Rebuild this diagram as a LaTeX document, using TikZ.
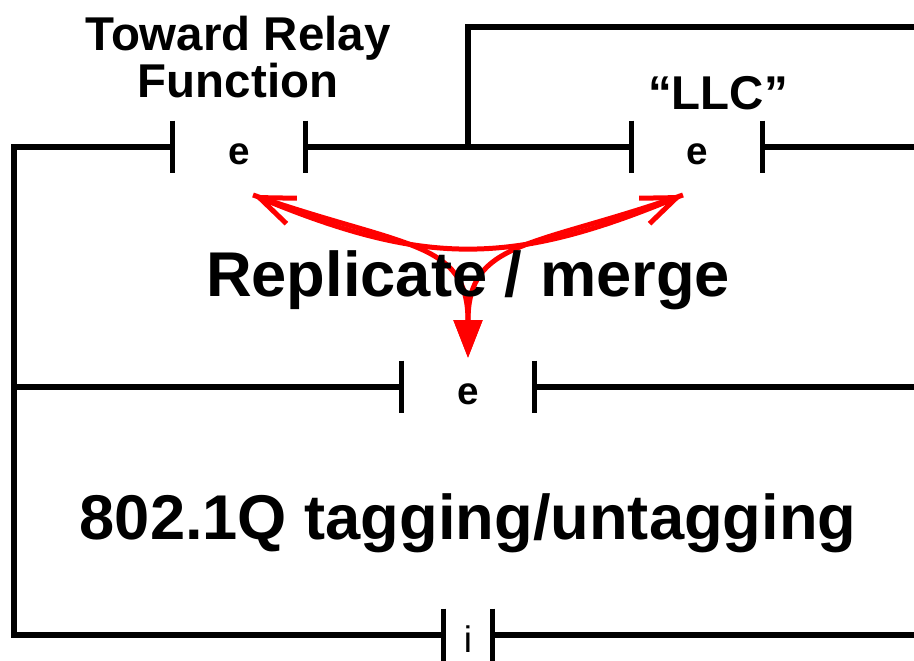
\documentclass[tikz,border=0pt]{standalone}
\usepackage{fontspec}
\setmainfont{Liberation Sans}
\usetikzlibrary{arrows.meta}

\tikzset{
  wire/.style={line width=0.11cm},
  port/.style={inner sep=0pt, minimum height=1.04cm, text height=20pt, text depth=0pt,
    font=\fontsize{22}{24}\selectfont\bfseries},
  title/.style={anchor=base, align=center, inner sep=0pt, font=\fontsize{27}{27.2}\selectfont\bfseries},
  big/.style={anchor=base, inner sep=0pt, font=\fontsize{36}{38}\selectfont\bfseries},
  flow/.style={red, line width=0.1cm},
  barb/.style={{Straight Barb[length=0.7cm,width=0.55cm]}-{Straight Barb[length=0.7cm,width=0.55cm]}},
  down/.style={-{Triangle[length=0.76cm,width=0.56cm]}}
}

\begin{document}
\begin{tikzpicture}[x=0.02cm,y=-0.02cm]
  \useasboundingbox (0,0) rectangle (914,661);

  % ports
  \node[port, minimum width=2.64cm] (e1) at (239,147) {e};
  \node[port, minimum width=2.60cm] (e2) at (697,147) {e};
  \node[port, minimum width=2.64cm] (e3) at (468,387) {e};
  \node[port, minimum width=0.96cm, font=\fontsize{21}{23}\selectfont] (i1) at (468,635) {i};

  \foreach \p in {e1,e2,e3,i1}
    \draw[wire] (\p.north west) -- (\p.south west) (\p.north east) -- (\p.south east);

  % corners and ends
  \coordinate (tl) at (14,147);
  \coordinate (ml) at (14,387);
  \coordinate (bl) at (14,635);
  \coordinate (jn) at (468,147);
  \coordinate (up) at (468,27);
  \coordinate (upR) at (914,27);
  \coordinate (r1) at (914,147);
  \coordinate (r2) at (914,387);
  \coordinate (r3) at (914,635);

  % wires
  \draw[wire] (e1.west) -- (tl) -- (bl) -- (i1.west);
  \draw[wire] (e1.east) -- (e2.west);
  \draw[wire] (e2.east) -- (r1);
  \draw[wire] (jn) -- (up) -- (upR);
  \draw[wire] (ml) -- (e3.west);
  \draw[wire] (e3.east) -- (r2);
  \draw[wire] (i1.east) -- (r3);

  % replicate / merge arrows
  \coordinate (tipL) at (253,195);
  \coordinate (tipR) at (683,195);
  \coordinate (tipD) at (468,358);
  \draw[flow, barb] (tipR) .. controls (511,266) and (425,266) .. (tipL);
  \draw[flow, down] (tipL) .. controls (405,248) and (468,240) .. (tipD);
  \draw[flow, down] (tipR) .. controls (531,248) and (468,240) .. (tipD);

  % labels
  \node[title] (relay) at (238,98) {Toward Relay\\Function};
  \node[title] (llc) at (718,110) {“LLC”};
  \node[big] (repl) at (468,297) {Replicate / merge};
  \node[big] (tag) at (468,540) {802.1Q tagging/untagging};
\end{tikzpicture}
\end{document}
